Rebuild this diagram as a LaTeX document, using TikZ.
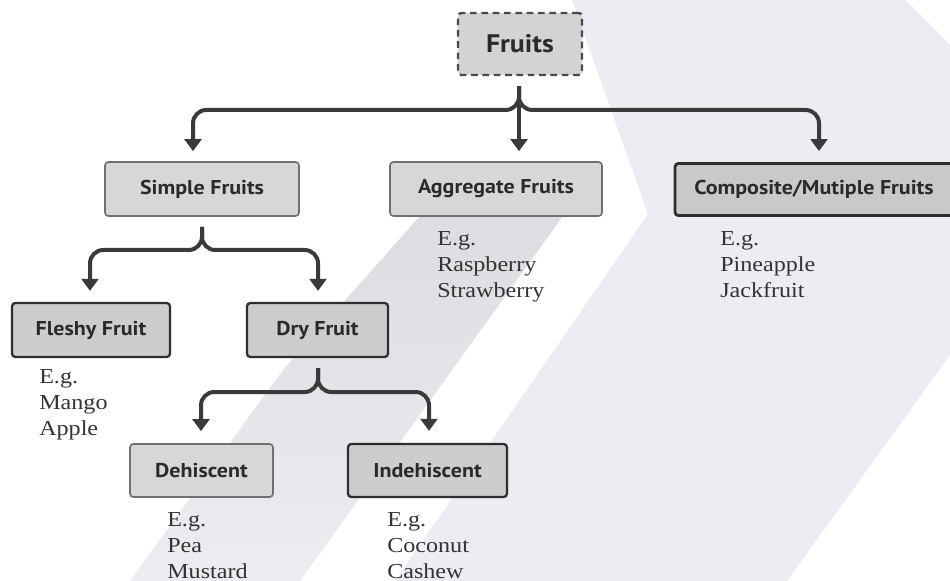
\documentclass[tikz,border=0pt]{standalone}
\usepackage{fontspec}
\setmainfont{Liberation Serif}[FakeStretch=1.13]
\setsansfont{PT Sans}[FakeStretch=1.1]
\usetikzlibrary{arrows.meta,calc}
\definecolor{ink}{HTML}{3A3A3A}
\definecolor{txt}{HTML}{2A2A2A}
\definecolor{extxt}{HTML}{333333}
\definecolor{tint}{HTML}{EBEDF2}
\definecolor{bandtop}{HTML}{DCDDE0}
\definecolor{bandbot}{HTML}{EBEDF1}
\definecolor{lfill}{HTML}{D7D7D7}
\definecolor{lborder}{HTML}{707070}
\definecolor{dfill}{HTML}{CDCDCD}
\definecolor{dborder}{HTML}{2E2E2E}
\definecolor{cfill}{HTML}{C9C9C9}
\definecolor{rootfill}{HTML}{D3D3D3}
\definecolor{rootborder}{HTML}{4A4A4A}
\begin{document}
\begin{tikzpicture}[x=0.75pt,y=-0.75pt,
  boxbase/.style={rounded corners=2.5pt, inner sep=0pt, text=txt,
    font=\sffamily\bfseries\fontsize{15}{17}\selectfont},
  lightbox/.style={boxbase, draw=lborder, fill=lfill, line width=1.2pt},
  darkbox/.style={boxbase, draw=dborder, fill=dfill, line width=1.7pt},
  compbox/.style={boxbase, draw=dborder, fill=cfill, line width=2.1pt},
  rootbox/.style={boxbase, draw=rootborder, fill=rootfill, line width=1.8pt,
    dash pattern=on 5pt off 3.5pt, font=\sffamily\bfseries\fontsize{19}{22}\selectfont},
  extext/.style={anchor=north west, align=left, inner sep=0pt, text=extxt,
    font=\fontsize{16}{19.5}\selectfont},
  arr/.style={draw=ink, line width=3pt, rounded corners=10pt,
    -{Triangle[width=12.5pt,length=9pt]}}
]
\useasboundingbox (0,0) rectangle (950,581);
\fill[white] (0,0) rectangle (950,581);
% watermark
\fill[tint] (572,0) -- (905,0) -- (950,45) -- (950,355) -- (787,581) -- (395,581) -- (648,214) -- cycle;
\shade[top color=bandtop, bottom color=bandbot] (420,216) -- (563,216) -- (300,581) -- (130,581) -- (283,370) -- cycle;

% boxes
\node[rootbox, minimum width=124*0.75pt, minimum height=62*0.75pt] (fruits) at (520,44) {Fruits};
\node[lightbox, minimum width=194*0.75pt, minimum height=54*0.75pt] (simple) at (202,189) {Simple Fruits};
\node[lightbox, minimum width=212*0.75pt, minimum height=54*0.75pt] (aggregate) at (496,189) {Aggregate Fruits};
\node[compbox, minimum width=278*0.75pt, minimum height=52*0.75pt] (composite) at (814,189.5) {Composite/Mutiple Fruits};
\node[darkbox, minimum width=158*0.75pt, minimum height=54*0.75pt] (fleshy) at (91,330) {Fleshy Fruit};
\node[darkbox, minimum width=141*0.75pt, minimum height=54*0.75pt] (dry) at (317.5,330) {Dry Fruit};
\node[lightbox, minimum width=143*0.75pt, minimum height=53*0.75pt] (dehiscent) at (201.5,470.5) {Dehiscent};
\node[darkbox, minimum width=159*0.75pt, minimum height=53*0.75pt] (indehiscent) at (427.5,470.5) {Indehiscent};

% examples
\node[extext] (exagg) at (437,231) {E.g.\\Raspberry\\Strawberry};
\node[extext] (excomp) at (720,231) {E.g.\\Pineapple\\Jackfruit};
\node[extext] (exfleshy) at (39,369) {E.g.\\Mango\\Apple};
\node[extext] (exdeh) at (167,512) {E.g.\\Pea\\Mustard};
\node[extext] (exindeh) at (387,512) {E.g.\\Coconut\\Cashew};

% connectors
\coordinate (j0) at (519,110);
\coordinate (j1) at (202,250);
\coordinate (j2) at (318,392);
\draw[arr] ($(fruits.south)+(-1,10)$) -- ($(aggregate.north)+(23,-10)$);
\draw[arr] ($(fruits.south)+(-1,10)$) -- (j0) -| ($(simple.north)+(-9,-10)$);
\draw[arr] ($(fruits.south)+(-1,10)$) -- (j0) -| ($(composite.north)+(5,-11)$);
\draw[arr] ($(simple.south)+(0,10)$) -- (j1) -| ($(fleshy.north)+(-1,-11)$);
\draw[arr] ($(simple.south)+(0,10)$) -- (j1) -| ($(dry.north)+(0.5,-11)$);
\draw[arr] ($(dry.south)+(0.5,10)$) -- (j2) -| ($(dehiscent.north)+(-0.5,-12)$);
\draw[arr] ($(dry.south)+(0.5,10)$) -- (j2) -| ($(indehiscent.north)+(1.5,-12)$);
\end{tikzpicture}
\end{document}
